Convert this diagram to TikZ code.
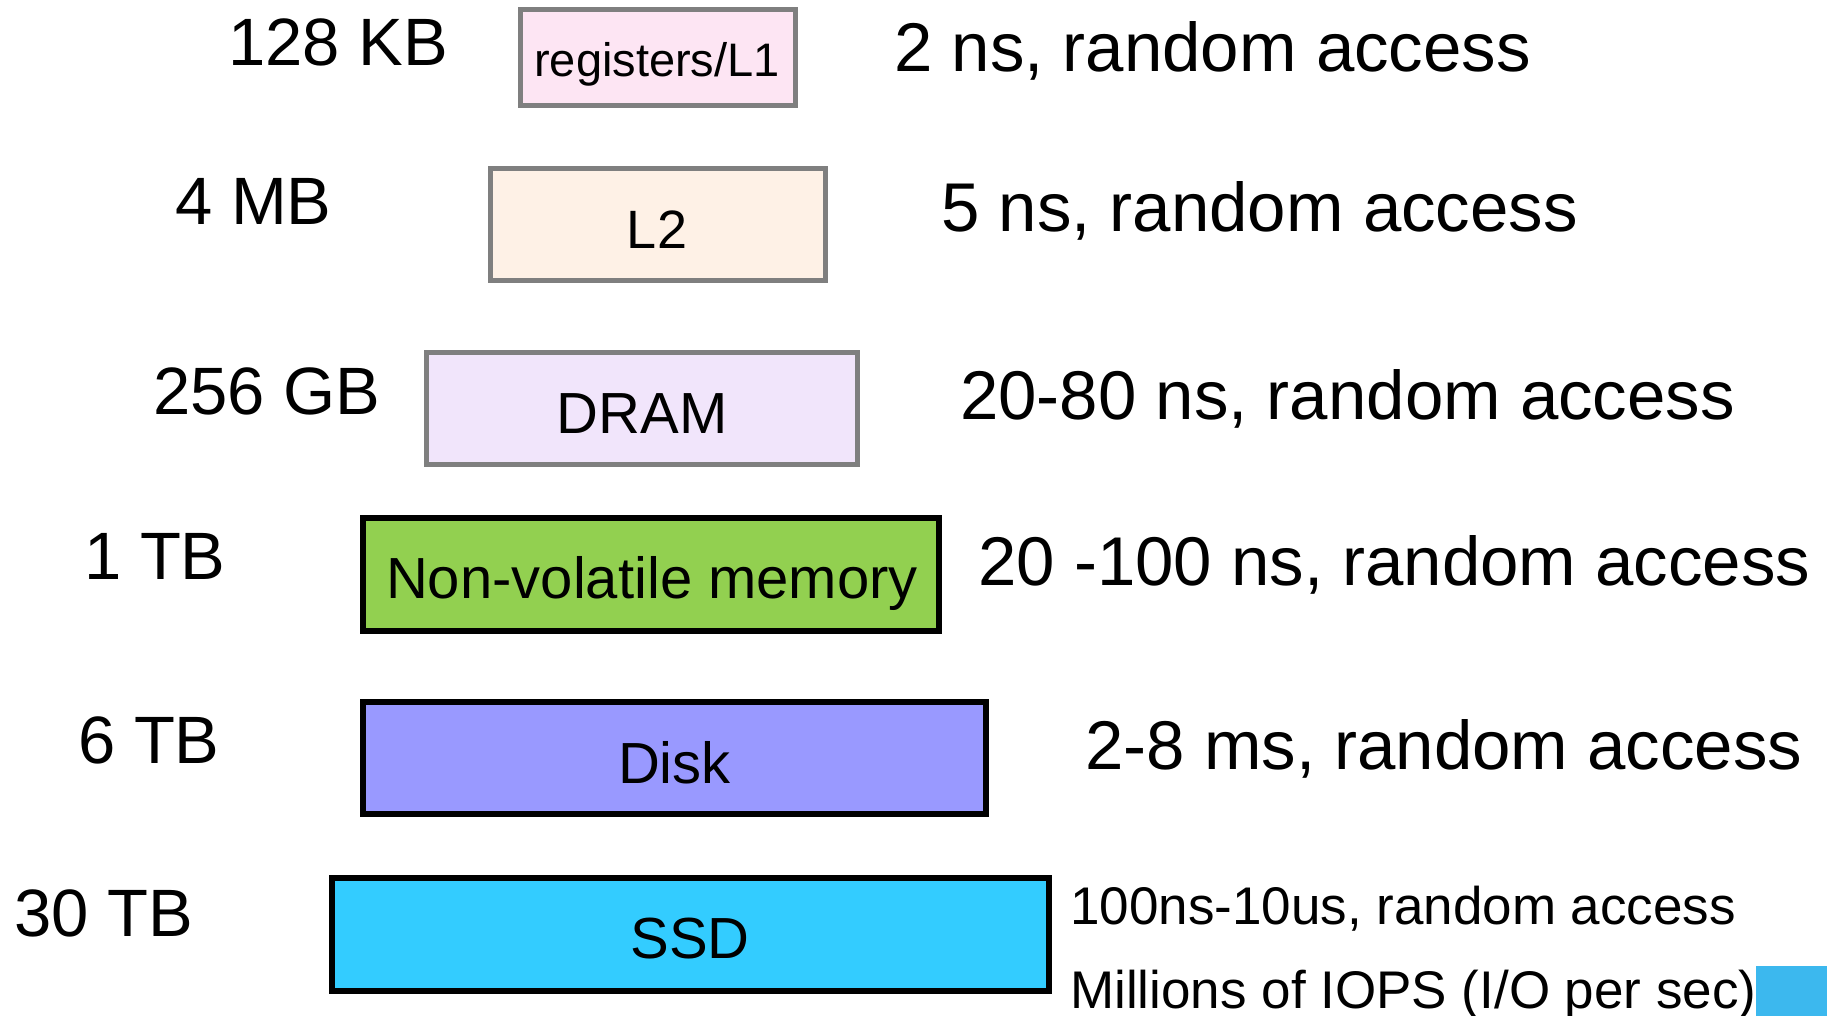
\documentclass[tikz,border=0pt]{standalone}
\usepackage{fontspec}
\setmainfont{Liberation Sans}
\definecolor{lonefill}{HTML}{FDE5F3}
\definecolor{ltwofill}{HTML}{FEF1E6}
\definecolor{dramfill}{HTML}{F1E5FB}
\definecolor{nvmfill}{HTML}{92D050}
\definecolor{diskfill}{HTML}{9999FF}
\definecolor{ssdfill}{HTML}{33CCFF}
\definecolor{graybd}{HTML}{7F7F7F}
\definecolor{cornerblue}{HTML}{3CB8EE}
\begin{document}
\begin{tikzpicture}[x=1pt,y=-1pt,
  graybox/.style={draw=graybd, line width=5pt, inner sep=0pt},
  blackbox/.style={draw=black, line width=6pt, inner sep=0pt},
  boxtxt/.style={anchor=base, inner sep=0pt, font=\fontsize{58}{70}\selectfont},
  sizetxt/.style={anchor=base west, inner sep=0pt, font=\fontsize{67}{80}\selectfont},
  timetxt/.style={anchor=base west, inner sep=0pt, font=\fontsize{69}{82}\selectfont},
  smalltxt/.style={anchor=base west, inner sep=0pt, font=\fontsize{53}{64}\selectfont}]
\useasboundingbox (0,0) rectangle (1827,1016);
\fill[white] (0,0) rectangle (1827,1016);
\fill[cornerblue] (1756,966) rectangle (1827,1016);

% boxes
\node[graybox, fill=lonefill, minimum width=275pt, minimum height=96pt] (l1) at (658,57.5) {};
\node[graybox, fill=ltwofill, minimum width=335pt, minimum height=112pt] (l2) at (658,224.5) {};
\node[graybox, fill=dramfill, minimum width=431pt, minimum height=112pt] (dram) at (642,408.5) {};
\node[blackbox, fill=nvmfill, minimum width=576pt, minimum height=113pt] (nvm) at (651,574.5) {};
\node[blackbox, fill=diskfill, minimum width=623pt, minimum height=112pt] (disk) at (674.5,758) {};
\node[blackbox, fill=ssdfill, minimum width=717pt, minimum height=113pt] (ssd) at (690.5,934.5) {};

% box labels
\node[boxtxt, font=\fontsize{47}{56}\selectfont] (l1t) at (657,77) {registers/L1};
\node[boxtxt, font=\fontsize{54}{64}\selectfont] (l2t) at (657,249) {L2};
\node[boxtxt] (dramt) at (642,433) {DRAM};
\node[boxtxt] (nvmt) at (652,598) {Non-volatile memory};
\node[boxtxt] (diskt) at (674.5,783) {Disk};
\node[boxtxt] (ssdt) at (690,958) {SSD};

% sizes
\node[sizetxt] (s1) at (228,66) {128 KB};
\node[sizetxt] (s2) at (175,225) {4 MB};
\node[sizetxt] (s3) at (153,414) {256 GB};
\node[sizetxt] (s4) at (84,579) {1 TB};
\node[sizetxt] (s5) at (78,763) {6 TB};
\node[sizetxt] (s6) at (14,936) {30 TB};

% latencies
\node[timetxt] (t1) at (894,72) {2 ns, random access};
\node[timetxt] (t2) at (941,232) {5 ns, random access};
\node[timetxt] (t3) at (960,419) {20-80 ns, random access};
\node[timetxt] (t4) at (978,585) {20 -100 ns, random access};
\node[timetxt] (t5) at (1085,769) {2-8 ms, random access};
\node[smalltxt] (t6) at (1070,924) {100ns-10us, random access};
\node[smalltxt] (t7) at (1070,1008) {Millions of IOPS (I/O per sec)};
\end{tikzpicture}
\end{document}
